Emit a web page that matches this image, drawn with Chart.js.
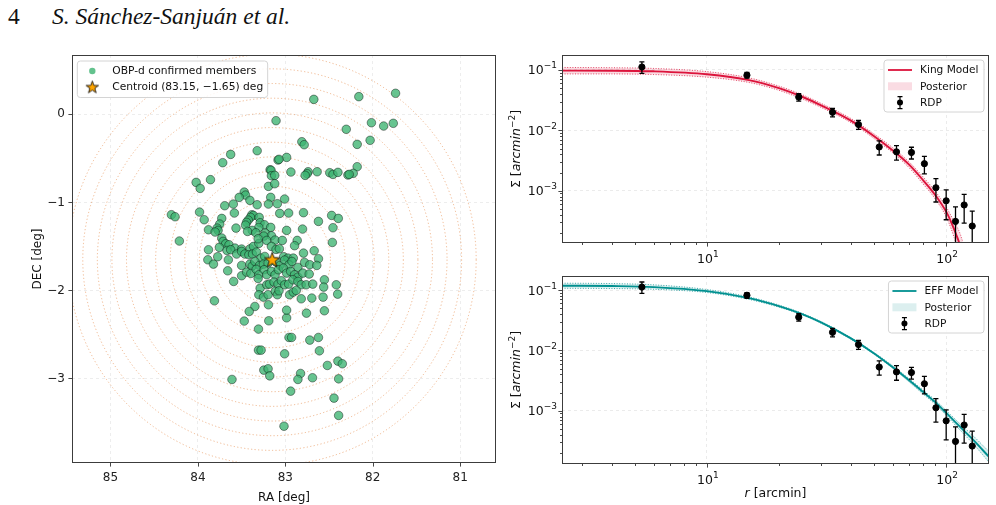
<!DOCTYPE html>
<html>
<head>
<meta charset="utf-8">
<script src="https://cdn.jsdelivr.net/npm/chart.js@4.4.1/dist/chart.umd.min.js"></script>
<style>
  body { margin: 0; background: #fff; width: 996px; height: 505px; overflow: hidden; position: relative; }
  .box { position: absolute; }
  #pageNo, #authors { position: absolute; top: 5px; font-family: "Liberation Serif", "Times New Roman", serif; font-size: 23.5px; line-height: 1; color: #111; }
  #pageNo { left: 8px; }
  #authors { left: 52px; font-style: italic; }
</style>
</head>
<body>
<div id="pageNo">4</div>
<div id="authors">S. Sánchez-Sanjuán et al.</div>
<div class="box" style="left:0;top:40px;width:505px;height:465px"><canvas id="sky" width="505" height="465"></canvas></div>
<div class="box" style="left:500px;top:40px;width:496px;height:228px"><canvas id="king" width="496" height="228"></canvas></div>
<div class="box" style="left:500px;top:268px;width:496px;height:237px"><canvas id="eff" width="496" height="237"></canvas></div>

<script>
// ---- sky map data ----
const centroid = [83.15, -1.65];
const ringRadiiArcmin = [10, 20, 30, 40, 50, 60, 70, 80, 90, 100, 110, 120, 130, 140];
const raTicks = [85, 84, 83, 82, 81];
const decTicks = [0, -1, -2, -3];

// [RA, DEC] of confirmed members
const members = [
  [81.739, 0.239], [82.159, 0.201], [82.674, 0.170], [83.106, -0.072], [82.015, -0.095], [81.765, -0.102],
  [81.875, -0.133], [82.303, -0.170], [82.030, -0.295], [82.811, -0.311], [82.784, -0.345], [82.178, -0.341],
  [83.322, -0.413], [83.625, -0.455], [82.985, -0.489], [83.083, -0.519], [83.072, -0.511], [83.716, -0.549],
  [82.178, -0.595], [83.174, -0.629], [83.163, -0.636], [82.936, -0.655], [82.636, -0.652], [82.739, -0.652],
  [82.750, -0.674], [82.773, -0.693], [82.492, -0.663], [82.455, -0.682], [82.398, -0.659], [82.223, -0.670],
  [82.284, -0.689], [82.269, -0.682], [83.159, -0.697], [83.121, -0.693], [84.303, -1.140], [84.261, -1.163],
  [84.212, -1.439], [82.985, -2.311], [83.470, -2.348], [83.189, -2.345], [83.307, -2.439], [82.958, -2.534],
  [82.928, -2.534], [82.720, -2.564], [82.621, -2.534], [83.307, -2.678], [83.277, -2.678], [83.008, -2.720],
  [82.610, -2.686], [82.519, -2.852], [82.398, -2.803], [82.348, -2.833], [83.246, -2.905], [83.197, -2.890],
  [83.178, -2.970], [82.826, -2.943], [82.856, -3.011], [82.689, -2.992], [82.390, -3.004], [83.610, -3.011],
  [82.939, -3.144], [82.443, -3.223], [82.390, -3.420], [83.015, -3.542],
  [84.020, -0.773], [83.856, -0.742], [83.193, -0.818], [83.121, -0.788],
  [83.974, -0.841], [83.470, -0.883], [83.455, -0.917], [83.527, -0.943], [83.167, -0.943], [83.008, -0.962], [83.405, -0.977],
  [83.693, -1.038], [83.595, -1.019], [83.322, -1.027], [83.193, -1.019], [83.091, -1.015],
  [83.981, -1.110], [83.583, -1.121], [83.383, -1.140], [83.364, -1.148], [83.398, -1.170], [83.299, -1.170],
  [83.064, -1.125], [82.962, -1.121], [82.792, -1.117], [82.470, -1.148], [82.394, -1.182], [83.727, -1.182],
  [83.928, -1.197], [83.750, -1.246], [83.780, -1.292], [83.424, -1.201], [83.443, -1.227], [83.455, -1.258],
  [83.288, -1.231], [83.239, -1.254], [83.303, -1.284], [83.564, -1.292], [82.621, -1.216], [82.455, -1.288],
  [82.803, -1.303], [83.167, -1.284], [83.879, -1.311],
  [83.769, -1.318], [83.803, -1.337], [83.379, -1.318], [83.432, -1.330], [83.337, -1.345], [83.231, -1.349],
  [82.985, -1.318], [83.159, -1.379], [83.246, -1.383], [83.727, -1.405], [82.864, -1.432],
  [83.712, -1.443], [83.682, -1.470], [83.644, -1.481], [83.576, -1.519], [83.500, -1.530], [83.402, -1.527],
  [83.364, -1.500], [83.303, -1.466], [83.212, -1.432], [83.117, -1.428], [83.034, -1.432], [82.894, -1.492],
  [82.462, -1.455], [83.311, -1.413],
  [83.879, -1.538], [83.754, -1.511], [83.667, -1.546], [83.625, -1.538], [83.557, -1.587], [83.500, -1.557],
  [83.462, -1.587], [83.417, -1.595], [83.375, -1.587], [83.330, -1.564], [83.280, -1.633], [83.235, -1.614],
  [83.159, -1.500], [83.106, -1.534], [83.068, -1.527], [83.019, -1.617], [82.970, -1.633], [82.909, -1.633],
  [82.792, -1.576], [82.670, -1.549], [82.621, -1.640],
  [83.886, -1.652], [83.822, -1.701], [83.773, -1.617], [83.652, -1.652], [83.500, -1.716], [83.405, -1.701],
  [83.379, -1.724], [83.348, -1.671], [83.295, -1.716], [83.250, -1.701], [83.197, -1.689], [83.106, -1.678],
  [83.061, -1.716], [83.008, -1.655], [82.958, -1.708], [82.924, -1.671], [82.856, -1.739], [82.780, -1.682],
  [82.720, -1.708], [82.640, -1.716],
  [83.659, -1.777], [83.500, -1.833], [83.443, -1.792], [83.394, -1.807], [83.333, -1.761], [83.303, -1.822],
  [83.242, -1.765], [83.212, -1.822], [83.159, -1.784], [83.117, -1.822], [83.080, -1.765], [83.023, -1.746],
  [82.985, -1.803], [82.939, -1.784], [82.894, -1.822], [82.856, -1.849], [82.799, -1.803], [82.727, -1.814],
  [82.553, -1.879],
  [83.591, -1.898], [83.311, -1.864], [83.288, -1.974], [83.212, -1.936], [83.182, -1.928], [83.129, -1.905],
  [83.083, -1.928], [83.045, -1.890], [83.008, -1.936], [82.962, -1.928], [82.913, -1.879], [82.856, -1.898],
  [82.818, -1.936], [82.761, -1.936], [82.686, -1.928], [82.561, -1.962], [82.417, -1.936],
  [83.303, -2.049], [83.250, -2.076], [83.197, -2.049], [83.114, -2.011], [83.091, -2.049], [83.072, -2.004],
  [82.951, -2.049], [82.909, -2.019], [82.875, -2.000], [82.818, -2.095], [82.697, -2.087], [82.568, -2.076],
  [82.401, -2.042],
  [83.811, -2.118], [83.348, -2.182], [83.193, -2.163], [82.985, -2.224], [82.758, -2.258], [82.553, -2.231],
  [83.413, -2.239]
];

// ---- radial density profile (shared by both panels) ----
const rdpR = [5.35, 14.7, 24.2, 33.5, 43.0, 52.5, 62.0, 71.6, 81.1, 90.6, 100, 109.4, 118.9, 128.5];
const rdpSigma = [0.112, 0.082, 0.0355, 0.0199, 0.0125, 0.0053, 0.0044, 0.0043, 0.0028, 0.00112, 0.00068, 0.00031, 0.00058, 0.00026];
const rdpErr = [0.024, 0.009, 0.005, 0.0032, 0.0021, 0.0014, 0.0012, 0.00095, 0.0009, 0.00047, 0.00035, 0.00023, 0.00029, 0.0002];

// King model curve and posterior band
const kingR = [2.48, 4, 6, 10, 15, 20, 25, 30, 40, 50, 60, 70, 80, 90, 100, 105, 110, 114, 118, 122];
const kingMid = [0.0975, 0.0972, 0.095, 0.085, 0.068, 0.050, 0.036, 0.026, 0.0145, 0.0080, 0.0046, 0.0027, 0.0015, 0.00085, 0.00045, 0.00030, 0.00019, 0.000125, 0.00006, 0.00002];
const kingUp = [0.110, 0.109, 0.106, 0.094, 0.074, 0.054, 0.039, 0.028, 0.0157, 0.0087, 0.0051, 0.0030, 0.0017, 0.00098, 0.00054, 0.00038, 0.00027, 0.00020, 0.00013, 0.00007];
const kingLo = [0.086, 0.086, 0.084, 0.076, 0.062, 0.046, 0.033, 0.024, 0.0134, 0.0073, 0.0042, 0.0024, 0.0013, 0.00073, 0.00037, 0.00023, 0.00013, 0.00007, 0.00003, 0.00001];

// EFF model curve and posterior band
const effR = [2.48, 4, 6, 10, 15, 20, 25, 30, 40, 50, 60, 70, 80, 90, 100, 110, 120, 130, 151];
const effMid = [0.118, 0.1165, 0.112, 0.096, 0.0736, 0.0543, 0.040, 0.0291, 0.0158, 0.0089, 0.0052, 0.0032, 0.00206, 0.00139, 0.00092, 0.00063, 0.000447, 0.000325, 0.000172];
const effUp = [0.130, 0.128, 0.122, 0.102, 0.077, 0.0565, 0.0413, 0.0300, 0.0163, 0.0092, 0.0055, 0.0034, 0.0022, 0.00150, 0.00101, 0.00070, 0.00051, 0.00038, 0.00021];
const effLo = [0.107, 0.106, 0.103, 0.091, 0.070, 0.052, 0.0388, 0.0282, 0.0153, 0.0086, 0.0050, 0.0030, 0.0019, 0.00128, 0.00084, 0.00056, 0.00039, 0.00028, 0.00014];

// log axis ticks
const rMajor = [10, 100];
const rMinor = [3, 4, 5, 6, 7, 8, 9, 20, 30, 40, 50, 60, 70, 80, 90];
const sMajor = [0.001, 0.01, 0.1];
const sMinor = [0.0002, 0.0003, 0.0004, 0.0005, 0.0006, 0.0007, 0.0008, 0.0009,
                0.002, 0.003, 0.004, 0.005, 0.006, 0.007, 0.008, 0.009,
                0.02, 0.03, 0.04, 0.05, 0.06, 0.07, 0.08, 0.09];

const FONT = '"DejaVu Sans", sans-serif';
const zip = (xs, ys) => xs.map((x, i) => ({ x: x, y: ys[i] }));

// a filled star marker, drawn once into a small canvas
function makeStar(R) {
  const c = document.createElement('canvas');
  const s = Math.ceil(2 * R + 4);
  c.width = c.height = s;
  const g = c.getContext('2d');
  g.translate(s / 2, s / 2 + R * 0.08);
  g.beginPath();
  for (let i = 0; i < 10; i++) {
    const ang = -Math.PI / 2 + i * Math.PI / 5;
    const rad = i % 2 ? R * 0.4 : R;
    g.lineTo(rad * Math.cos(ang), rad * Math.sin(ang));
  }
  g.closePath();
  g.fillStyle = '#ffa500';
  g.fill();
  g.strokeStyle = '#000';
  g.lineWidth = 0.8;
  g.stroke();
  return c;
}
const starBig = makeStar(8);
const starSmall = makeStar(6.5);

// text made of pieces with different fonts (for italics / superscripts)
function drawRich(ctx, parts, x, y, angle, align) {
  ctx.save();
  ctx.translate(x, y);
  ctx.rotate(angle || 0);
  ctx.textBaseline = 'alphabetic';
  ctx.textAlign = 'left';
  ctx.fillStyle = '#111';
  let w = 0;
  parts.forEach(p => { ctx.font = p.font; p.w = ctx.measureText(p.t).width; w += p.w; });
  let cx = align === 'right' ? -w : -w / 2;
  parts.forEach(p => { ctx.font = p.font; ctx.fillText(p.t, cx, p.dy || 0); cx += p.w; });
  ctx.restore();
}

function roundBox(ctx, x, y, w, h, r) {
  ctx.beginPath();
  ctx.moveTo(x + r, y);
  ctx.arcTo(x + w, y, x + w, y + h, r);
  ctx.arcTo(x + w, y + h, x, y + h, r);
  ctx.arcTo(x, y + h, x, y, r);
  ctx.arcTo(x, y, x + w, y, r);
  ctx.closePath();
  ctx.fillStyle = 'rgba(255,255,255,0.85)';
  ctx.fill();
  ctx.strokeStyle = '#d4d4d4';
  ctx.lineWidth = 1;
  ctx.stroke();
}

// outward tick marks on left/bottom plus the full box
function drawFrame(chart) {
  const { ctx, chartArea: a, scales } = chart;
  ctx.save();
  ctx.strokeStyle = '#333';
  ctx.lineWidth = 0.9;
  ctx.beginPath();
  scales.x.ticks.forEach(t => {
    const p = Math.round(scales.x.getPixelForValue(t.value)) + 0.5;
    const len = t.major === false ? 2 : 3.6;
    ctx.moveTo(p, a.bottom); ctx.lineTo(p, a.bottom + len);
  });
  scales.y.ticks.forEach(t => {
    const p = Math.round(scales.y.getPixelForValue(t.value)) + 0.5;
    const len = t.major === false ? 2 : 3.6;
    ctx.moveTo(a.left, p); ctx.lineTo(a.left - len, p);
  });
  ctx.stroke();
  ctx.strokeStyle = '#3c3c3c';
  ctx.lineWidth = 1;
  ctx.strokeRect(a.left + 0.5, a.top + 0.5, a.right - a.left - 1, a.bottom - a.top - 1);
  ctx.restore();
}

// ---------------- left panel: sky positions ----------------
const skyPlugin = {
  id: 'skyDecor',
  beforeDatasetsDraw(chart) {
    const { ctx, chartArea: a, scales: { x, y } } = chart;
    const cx = x.getPixelForValue(centroid[0]);
    const cy = y.getPixelForValue(centroid[1]);
    ctx.save();
    ctx.beginPath();
    ctx.rect(a.left, a.top, a.right - a.left, a.bottom - a.top);
    ctx.clip();
    ctx.strokeStyle = 'rgba(232,148,88,0.65)';
    ctx.lineWidth = 1;
    ctx.setLineDash([1.2, 2.3]);
    ringRadiiArcmin.forEach(r => {
      const d = r / 60;
      const rx = Math.abs(x.getPixelForValue(centroid[0] + d) - cx);
      const ry = Math.abs(y.getPixelForValue(centroid[1] + d) - cy);
      ctx.beginPath();
      ctx.ellipse(cx, cy, rx, ry, 0, 0, 2 * Math.PI);
      ctx.stroke();
    });
    ctx.restore();
  },
  afterDraw(chart) {
    const { ctx, chartArea: a } = chart;
    drawFrame(chart);
    // axis titles
    const f = '12px ' + FONT;
    drawRich(ctx, [{ t: 'RA [deg]', font: f }], (a.left + a.right) / 2, 461);
    drawRich(ctx, [{ t: 'DEC [deg]', font: f }], 40.5, (a.top + a.bottom) / 2, -Math.PI / 2);
    // legend
    ctx.save();
    ctx.font = '10.7px ' + FONT;
    const labels = ['OBP-d confirmed members', 'Centroid (83.15, \u22121.65) deg'];
    const tw = Math.max(...labels.map(l => ctx.measureText(l).width));
    const x0 = a.left + 5.3, y0 = a.top + 6;
    roundBox(ctx, x0, y0, 35 + tw + 4.5, 36.5, 3);
    const ys = [y0 + 10, y0 + 26];
    ctx.beginPath();
    ctx.arc(x0 + 15, ys[0], 3.2, 0, 2 * Math.PI);
    ctx.fillStyle = 'rgba(60,179,113,0.8)';
    ctx.fill();
    ctx.drawImage(starSmall, x0 + 15 - starSmall.width / 2, ys[1] - starSmall.height / 2);
    ctx.fillStyle = '#111';
    ctx.textBaseline = 'middle';
    labels.forEach((l, i) => ctx.fillText(l, x0 + 35, ys[i] + 0.5));
    ctx.restore();
  }
};

new Chart(document.getElementById('sky'), {
  type: 'scatter',
  data: {
    datasets: [
      {
        data: [{ x: centroid[0], y: centroid[1] }],
        pointStyle: starBig,
        pointRadius: 8,
        order: 0
      },
      {
        data: members.map(m => ({ x: m[0], y: m[1] })),
        pointRadius: 4.3,
        backgroundColor: 'rgba(60,179,113,0.78)',
        borderColor: 'rgba(0,0,0,0.7)',
        borderWidth: 0.6,
        order: 1
      }
    ]
  },
  options: {
    responsive: false,
    animation: false,
    events: [],
    layout: { padding: { top: 15, right: 6, left: 0, bottom: 0 } },
    plugins: { legend: { display: false }, tooltip: { enabled: false } },
    scales: {
      x: {
        type: 'linear', reverse: true, min: 80.59, max: 85.44,
        afterBuildTicks: s => { s.ticks = raTicks.map(v => ({ value: v })); },
        afterFit: s => { s.height = 42; },
        grid: { color: 'rgba(0,0,0,0.09)', lineWidth: 0.8, drawTicks: false },
        border: { display: false, dash: [3, 3] },
        ticks: { padding: 8, color: '#222', font: { family: FONT, size: 12 }, maxRotation: 0, autoSkip: false,
                 callback: v => String(v) }
      },
      y: {
        type: 'linear', min: -3.96, max: 0.674,
        afterBuildTicks: s => { s.ticks = decTicks.map(v => ({ value: v })); },
        afterFit: s => { s.width = 72; },
        grid: { color: 'rgba(0,0,0,0.09)', lineWidth: 0.8, drawTicks: false },
        border: { display: false, dash: [3, 3] },
        ticks: { padding: 7, color: '#222', font: { family: FONT, size: 12 }, autoSkip: false,
                 callback: v => (v < 0 ? '\u2212' + Math.abs(v) : String(v)) }
      }
    }
  },
  plugins: [skyPlugin]
});

// ---------------- right panels: density profiles ----------------
const errorBarPlugin = {
  id: 'errorBars',
  afterDatasetsDraw(chart) {
    const { ctx, chartArea: a, scales: { x, y } } = chart;
    ctx.save();
    ctx.beginPath();
    ctx.rect(a.left, a.top, a.right - a.left, a.bottom - a.top);
    ctx.clip();
    ctx.strokeStyle = '#000';
    ctx.lineWidth = 1.3;
    chart.data.datasets.forEach(ds => {
      if (!ds.yErr) return;
      ds.data.forEach((p, i) => {
        const px = x.getPixelForValue(p.x);
        const lo = p.y - ds.yErr[i];
        const top = y.getPixelForValue(p.y + ds.yErr[i]);
        const bot = lo > 0 ? y.getPixelForValue(lo) : a.bottom + 20;
        ctx.beginPath();
        ctx.moveTo(px, top); ctx.lineTo(px, bot);
        ctx.moveTo(px - 2.5, top); ctx.lineTo(px + 2.5, top);
        ctx.moveTo(px - 2.5, bot); ctx.lineTo(px + 2.5, bot);
        ctx.stroke();
      });
    });
    ctx.restore();
  }
};

// "10" with a raised exponent, like the matplotlib log labels
function powerLabel(v) {
  const e = Math.round(Math.log10(v));
  return [
    { t: '10', font: '12.5px ' + FONT },
    { t: e < 0 ? '\u2212' + (-e) : String(e), font: '9px ' + FONT, dy: -6 }
  ];
}

function drawLogLabels(chart) {
  const { ctx, chartArea: a, scales: { x, y } } = chart;
  x.ticks.forEach(t => {
    if (!t.major) return;
    drawRich(ctx, powerLabel(t.value), x.getPixelForValue(t.value) + 1, a.bottom + 20);
  });
  y.ticks.forEach(t => {
    if (!t.major) return;
    drawRich(ctx, powerLabel(t.value), a.left - 5, y.getPixelForValue(t.value) + 4.5, 0, 'right');
  });
}

function profileLegend(chart, name, color, fill) {
  const { ctx, chartArea: a } = chart;
  ctx.save();
  ctx.font = '10.6px ' + FONT;
  const labels = [name, 'Posterior', 'RDP'];
  const tw = Math.max(...labels.map(l => ctx.measureText(l).width));
  const W = 4 + 24 + 8 + tw + 5.5;
  const x0 = a.right - 5 - W, y0 = a.top + 5;
  roundBox(ctx, x0, y0, W, 52, 3);
  const ys = [y0 + 10, y0 + 26.3, y0 + 42.6];
  const hx = x0 + 4;
  ctx.strokeStyle = color;
  ctx.lineWidth = 1.8;
  ctx.beginPath(); ctx.moveTo(hx, ys[0]); ctx.lineTo(hx + 24, ys[0]); ctx.stroke();
  ctx.fillStyle = fill;
  ctx.fillRect(hx, ys[1] - 4, 24, 8);
  const ex = hx + 12;
  ctx.strokeStyle = '#000';
  ctx.lineWidth = 1.2;
  ctx.beginPath();
  ctx.moveTo(ex, ys[2] - 6); ctx.lineTo(ex, ys[2] + 6);
  ctx.moveTo(ex - 2.5, ys[2] - 6); ctx.lineTo(ex + 2.5, ys[2] - 6);
  ctx.moveTo(ex - 2.5, ys[2] + 6); ctx.lineTo(ex + 2.5, ys[2] + 6);
  ctx.stroke();
  ctx.beginPath(); ctx.arc(ex, ys[2], 3, 0, 2 * Math.PI); ctx.fillStyle = '#000'; ctx.fill();
  ctx.fillStyle = '#111';
  ctx.textBaseline = 'middle';
  labels.forEach((l, i) => ctx.fillText(l, x0 + 36, ys[i] + 0.5));
  ctx.restore();
}

function sigmaTitle(chart, cx) {
  const { ctx, chartArea: a } = chart;
  const n = '12.5px ' + FONT, it = 'italic 12.5px ' + FONT, sm = '9px ' + FONT;
  drawRich(ctx, [
    { t: '\u03A3 [', font: n },
    { t: 'arcmin', font: it },
    { t: '\u22122', font: sm, dy: -5 },
    { t: ']', font: n }
  ], cx, (a.top + a.bottom) / 2, -Math.PI / 2);
}

function profileChart(id, opts) {
  const decor = {
    id: 'profileDecor',
    afterDraw(chart) {
      drawFrame(chart);
      drawLogLabels(chart);
      sigmaTitle(chart, 20);
      if (opts.xTitle) {
        const { ctx, chartArea: a } = chart;
        drawRich(ctx, [
          { t: 'r', font: 'italic 12.5px ' + FONT },
          { t: ' [arcmin]', font: '12.5px ' + FONT }
        ], (a.left + a.right) / 2, 228.7);
      }
      profileLegend(chart, opts.name, opts.color, opts.legendFill);
    }
  };
  const logTicks = (major, minor) => s => {
    s.ticks = minor.map(v => ({ value: v, major: false })).concat(major.map(v => ({ value: v, major: true })))
      .sort((p, q) => p.value - q.value);
  };
  const gridOpts = {
    color: c => (c.tick && c.tick.major ? 'rgba(0,0,0,0.1)' : 'rgba(0,0,0,0)'),
    lineWidth: 0.8,
    drawTicks: false
  };
  return new Chart(document.getElementById(id), {
    type: 'line',
    data: {
      datasets: [
        {
          data: zip(opts.r, opts.up), borderColor: opts.edge, borderWidth: 0.9, borderDash: [1, 1.6],
          pointRadius: 0, fill: '+1', backgroundColor: opts.band, cubicInterpolationMode: 'monotone', order: 2
        },
        {
          data: zip(opts.r, opts.lo), borderColor: opts.edge, borderWidth: 0.9, borderDash: [1, 1.6],
          pointRadius: 0, fill: false, cubicInterpolationMode: 'monotone', order: 2
        },
        {
          data: zip(opts.r, opts.mid), borderColor: opts.color, borderWidth: 1.9,
          pointRadius: 0, fill: false, cubicInterpolationMode: 'monotone', order: 1
        },
        {
          data: zip(rdpR, rdpSigma), yErr: rdpErr, showLine: false,
          pointRadius: 3.1, backgroundColor: '#000', borderColor: '#000', order: 0
        }
      ]
    },
    options: {
      responsive: false,
      animation: false,
      events: [],
      layout: { padding: { top: opts.padTop, right: 7, left: 0, bottom: 0 } },
      plugins: { legend: { display: false }, tooltip: { enabled: false } },
      scales: {
        x: {
          type: 'logarithmic', min: 2.48, max: 151,
          afterBuildTicks: logTicks(rMajor, rMinor),
          afterFit: s => { s.height = opts.xAxisH; },
          grid: gridOpts,
          border: { display: false, dash: [3, 3] },
          ticks: { display: false }
        },
        y: {
          type: 'logarithmic', min: opts.yMin, max: opts.yMax,
          afterBuildTicks: logTicks(sMajor, sMinor),
          afterFit: s => { s.width = 62; },
          grid: gridOpts,
          border: { display: false, dash: [3, 3] },
          ticks: { display: false }
        }
      }
    },
    plugins: [errorBarPlugin, decor]
  });
}

profileChart('king', {
  r: kingR, mid: kingMid, up: kingUp, lo: kingLo,
  name: 'King Model', color: '#dc143c', edge: 'rgba(220,20,60,0.85)',
  band: 'rgba(220,20,60,0.15)', legendFill: '#fadce3',
  padTop: 15, xAxisH: 25, yMin: 1.36e-4, yMax: 0.177, xTitle: false
});

profileChart('eff', {
  r: effR, mid: effMid, up: effUp, lo: effLo,
  name: 'EFF Model', color: '#009090', edge: 'rgba(0,145,145,0.85)',
  band: 'rgba(0,139,139,0.13)', legendFill: '#dcefef',
  padTop: 8, xAxisH: 41, yMin: 1.31e-4, yMax: 0.171, xTitle: true
});
</script>
</body>
</html>
